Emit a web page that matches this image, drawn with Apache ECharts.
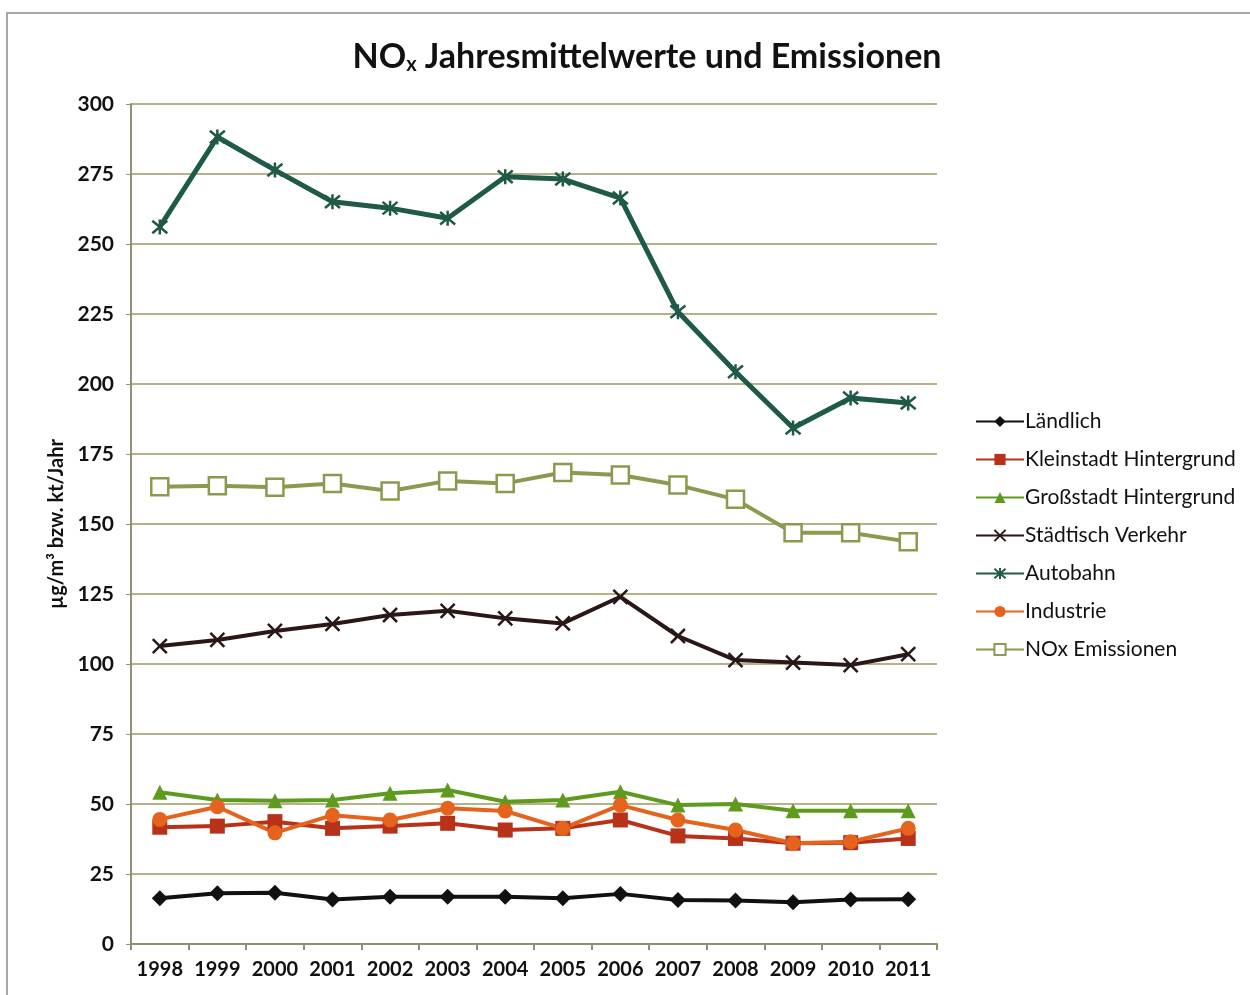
<!DOCTYPE html>
<html><head><meta charset="utf-8">
<script src="https://cdn.jsdelivr.net/npm/echarts@6/dist/echarts.min.js"></script>
<style>html,body{margin:0;padding:0;background:#fff}#c{width:1250px;height:995px}</style>
</head><body><div id="c"></div>
<script>
const years = ['1998','1999','2000','2001','2002','2003','2004','2005','2006','2007','2008','2009','2010','2011'];
const laendlich   = [16.3,18.1,18.3,15.9,16.9,16.9,16.9,16.3,17.9,15.7,15.5,14.9,15.9,16.0];
const kleinstadt  = [41.7,42.1,43.7,41.3,42.1,43.1,40.7,41.3,44.3,38.6,37.7,36.0,36.2,37.7];
const grossstadt  = [54.2,51.4,51.2,51.4,53.8,55.0,50.8,51.4,54.4,49.6,50.0,47.6,47.6,47.6];
const verkehr     = [106.4,108.6,111.8,114.3,117.5,119.0,116.3,114.5,124.0,110.0,101.4,100.5,99.6,103.5];
const autobahn    = [256.1,288.2,276.4,265.1,262.8,259.2,274.0,273.2,266.4,225.8,204.4,184.3,195.0,193.2];
const industrie   = [44.5,49.0,39.7,46.0,44.3,48.5,47.5,41.3,49.6,44.3,40.7,36.0,36.5,41.3];
const emissionen  = [163.3,163.7,163.1,164.5,161.8,165.4,164.5,168.4,167.5,163.9,158.8,146.9,146.9,143.7];
const seriesNames = ['Ländlich','Kleinstadt Hintergrund','Großstadt Hintergrund','Städtisch Verkehr','Autobahn','Industrie','NOx Emissionen'];
const yTicks = [0,25,50,75,100,125,150,175,200,225,250,275,300];

const FONT = 'Lato, "Open Sans", sans-serif';
const X_PATH = 'path://M0,0L10,10M10,0L0,10';
const STAR_PATH = 'path://M0,0L10,10M10,0L0,10M5,-1L5,11';

function mk(name, data, color, symbol, size, extra) {
  const s = {
    name, type:'line', data, symbol, symbolSize:size,
    lineStyle:{color, width:4},
    itemStyle:{color, borderColor:color, borderWidth:0},
    emphasis:{disabled:true}, z:3
  };
  return Object.assign(s, extra||{});
}

const chart = echarts.init(document.getElementById('c'));
chart.setOption({
  backgroundColor:'#fff',
  animation:false,
  graphic:[{type:'rect', shape:{x:7,y:13,width:1260,height:1000}, style:{fill:'none', stroke:'#a9a9a0', lineWidth:2}, silent:true}],
  title:{
    text:'{a|NO}{s|x}{a| Jahresmittelwerte und Emissionen}',
    left:642, top:34, textAlign:'center',
    textStyle:{rich:{
      a:{fontFamily:FONT, fontWeight:'bold', fontSize:34, color:'#111'},
      s:{fontFamily:FONT, fontWeight:'bold', fontSize:20, color:'#111', verticalAlign:'bottom', padding:[16,0,0,0]}
    }}
  },
  grid:{left:131, right:313, top:104, bottom:51, containLabel:false},
  legend:{
    orient:'vertical', left:970, top:406, itemGap:17, itemWidth:48, itemHeight:14,
    data:seriesNames,
    textStyle:{fontFamily:FONT, fontSize:21, color:'#111', padding:[0,0,0,-4]}
  },
  xAxis:{
    type:'category', data:years, boundaryGap:true,
    axisLine:{lineStyle:{color:'#8f9070', width:2}},
    axisTick:{show:true, length:6, lineStyle:{color:'#8f9070', width:2}},
    axisLabel:{fontFamily:FONT, fontWeight:'bold', fontSize:20, color:'#111', margin:16, interval:0, hideOverlap:false}
  },
  yAxis:{
    type:'value', min:0, max:300, interval:25,
    name:'µg/m³ bzw. kt/Jahr', nameLocation:'middle', nameGap:62, nameRotate:90,
    nameTextStyle:{fontFamily:FONT, fontWeight:'bold', fontSize:20, color:'#111'},
    axisLine:{show:true, lineStyle:{color:'#8f9070', width:2}},
    axisTick:{show:true, length:5, lineStyle:{color:'#8f9070'}},
    axisLabel:{fontFamily:FONT, fontWeight:'bold', fontSize:21, color:'#111', margin:17,
      formatter:v => yTicks.includes(v) ? String(v) : ''},
    splitLine:{lineStyle:{color:'#b5b385', width:2}}
  },
  series:[
    mk(seriesNames[0], laendlich, '#111111', 'diamond', 16),
    mk(seriesNames[1], kleinstadt, '#b8321a', 'rect', 15),
    mk(seriesNames[2], grossstadt, '#5e9a1e', 'triangle', 15),
    mk(seriesNames[3], verkehr, '#2a1717', X_PATH, 14, {itemStyle:{color:'#2a1717', borderColor:'#2a1717', borderWidth:2.5}, lineStyle:{color:'#2a1717', width:4}}),
    mk(seriesNames[4], autobahn, '#1f5a48', STAR_PATH, 15, {itemStyle:{color:'#1f5a48', borderColor:'#1f5a48', borderWidth:2.5}, lineStyle:{color:'#1f5a48', width:5}}),
    mk(seriesNames[5], industrie, '#e5631c', 'circle', 15),
    mk(seriesNames[6], emissionen, '#8a9a4e', 'rect', 17, {itemStyle:{color:'#ffffff', borderColor:'#8a9a4e', borderWidth:2.5}, lineStyle:{color:'#8a9a4e', width:4}})
  ]
});
</script></body></html>
